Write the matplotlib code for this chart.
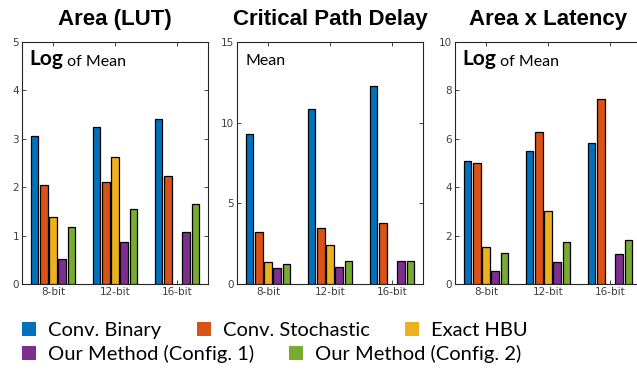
import numpy as np
import matplotlib.pyplot as plt
from matplotlib.patches import Patch

groups = ["8-bit", "12-bit", "16-bit"]
methods = ["Conv. Binary", "Conv. Stochastic", "Exact HBU",
           "Our Method (Config. 1)", "Our Method (Config. 2)"]
colors = ["#0072BD", "#D95319", "#EDB120", "#7E2F8E", "#77AC30"]

# Area (LUT), log of mean
area_binary = [3.05, 3.24, 3.40]
area_stoch = [2.05, 2.10, 2.23]
area_hbu = [1.39, 2.63, np.nan]
area_cfg1 = [0.52, 0.87, 1.08]
area_cfg2 = [1.17, 1.54, 1.66]

# Critical path delay, mean
delay_binary = [9.29, 10.86, 12.28]
delay_stoch = [3.25, 3.45, 3.77]
delay_hbu = [1.37, 2.41, np.nan]
delay_cfg1 = [1.00, 1.07, 1.43]
delay_cfg2 = [1.21, 1.44, 1.41]

# Area x latency, log of mean
axl_binary = [5.10, 5.50, 5.82]
axl_stoch = [5.00, 6.28, 7.66]
axl_hbu = [1.53, 3.00, np.nan]
axl_cfg1 = [0.54, 0.91, 1.26]
axl_cfg2 = [1.27, 1.72, 1.81]

panels = [
    ("Area (LUT)", [area_binary, area_stoch, area_hbu, area_cfg1, area_cfg2], 5, [0, 1, 2, 3, 4, 5], True),
    ("Critical Path Delay", [delay_binary, delay_stoch, delay_hbu, delay_cfg1, delay_cfg2], 15, [0, 5, 10, 15], False),
    ("Area x Latency", [axl_binary, axl_stoch, axl_hbu, axl_cfg1, axl_cfg2], 10, [0, 2, 4, 6, 8, 10], True),
]

title_font = ["Liberation Sans", "DejaVu Sans"]
label_font = ["Lato", "DejaVu Sans"]

fig = plt.figure(figsize=(6.37, 3.75), dpi=100)
lefts = [22 / 637, 237 / 637, 455 / 637]
x = np.arange(1, 4)

for left, (title, series, ymax, yticks, is_log) in zip(lefts, panels):
    ax = fig.add_axes([left, 1 - 284 / 375, 186 / 637, 242 / 375])
    for i, vals in enumerate(series):
        ax.bar(x + (i - 2) * 0.15, vals, width=0.125, color=colors[i],
               edgecolor="black", linewidth=0.9, zorder=3)
    ax.set_xlim(0.5, 3.5)
    ax.set_ylim(0, ymax)
    ax.set_xticks(x)
    ax.set_xticklabels(groups)
    ax.set_yticks(yticks)
    ax.tick_params(direction="in", length=3, width=0.6, labelsize=7.5,
                   labelcolor="#404040", colors="#262626", top=True, right=True,
                   pad=2)
    for s in ax.spines.values():
        s.set_color("#262626")
        s.set_linewidth(0.8)
    ax.set_title(title, fontsize=16, fontweight="bold", family=title_font, pad=12)
    if is_log:
        t = ax.text(0.04, 0.905, "Log", transform=ax.transAxes, fontsize=15,
                    fontweight="bold", family=label_font, va="baseline")
        ax.annotate(" of Mean", xycoords=t, xy=(1, 0), va="bottom",
                    fontsize=11.5, family=label_font)
    else:
        ax.text(0.045, 0.905, "Mean", transform=ax.transAxes, fontsize=11.5,
                family=label_font, va="baseline")

h = [Patch(facecolor=c, edgecolor="none") for c in colors]
leg_kw = dict(loc="upper left", frameon=False, handlelength=0.7,
              handleheight=0.7, handletextpad=0.6, borderaxespad=0, borderpad=0,
              prop={"family": label_font, "size": 14.5})
fig.legend(h[:3], methods[:3], ncol=3, columnspacing=1.75,
           bbox_to_anchor=(22 / 637, 1 - 322 / 375), **leg_kw)
fig.legend(h[3:], methods[3:], ncol=2, columnspacing=1.7,
           bbox_to_anchor=(22 / 637, 1 - 345 / 375), **leg_kw)

fig.savefig("out.png", dpi=100)
